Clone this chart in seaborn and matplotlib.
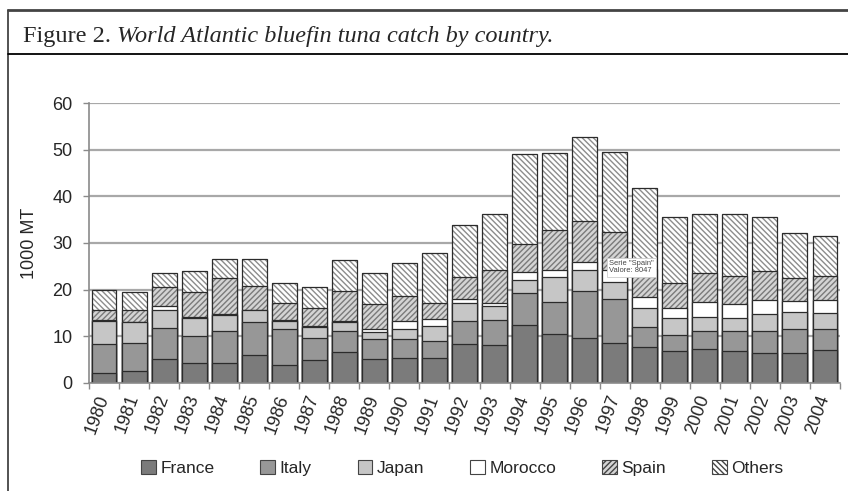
import matplotlib
matplotlib.use("Agg")
import matplotlib.pyplot as plt
from matplotlib.patches import Patch
from matplotlib.lines import Line2D
import numpy as np
import seaborn as sns

years = [str(y) for y in range(1980, 2005)]
france = [2.0, 2.5, 5.1, 4.2, 4.2, 5.9, 3.7, 4.8, 6.5, 5.0, 5.2, 5.2, 8.2, 8.1, 12.3,
          10.4, 9.6, 8.5, 7.7, 6.8, 7.3, 6.8, 6.4, 6.4, 7.0]
italy = [6.2, 6.1, 6.6, 5.8, 7.0, 7.2, 7.8, 4.7, 4.5, 4.3, 4.1, 3.7, 5.0, 5.4, 6.9,
         7.0, 10.1, 9.5, 4.2, 3.4, 3.9, 4.3, 4.8, 5.1, 4.6]
japan = [5.0, 4.4, 3.8, 3.9, 3.4, 2.4, 1.7, 2.4, 2.0, 1.5, 2.3, 3.2, 4.0, 3.0, 2.8,
         5.2, 4.5, 3.6, 4.2, 3.6, 3.0, 2.7, 3.5, 3.6, 3.3]
morocco = [0.2, 0.1, 1.0, 0.3, 0.1, 0.1, 0.2, 0.3, 0.3, 0.7, 1.6, 1.5, 0.8, 0.5, 1.8,
           1.6, 1.6, 2.6, 2.3, 2.3, 3.1, 3.1, 3.0, 2.5, 2.8]
spain = [2.3, 2.6, 4.0, 5.3, 7.7, 5.1, 3.6, 3.8, 6.3, 5.3, 5.4, 3.6, 4.6, 7.2, 5.9,
         8.6, 8.9, 8.047, 6.0, 5.4, 6.2, 5.9, 6.2, 4.8, 5.1]
others = [4.1, 3.7, 3.0, 4.5, 4.2, 5.8, 4.5, 4.6, 6.7, 6.7, 7.0, 10.6, 11.3, 11.9, 19.3,
          16.4, 18.0, 17.2, 17.4, 14.1, 12.7, 13.5, 11.7, 9.8, 8.7]

series_names = ["France", "Italy", "Japan", "Morocco", "Spain", "Others"]
series_vals = [france, italy, japan, morocco, spain, others]
face_colors = ["#7b7b7b", "#979797", "#c6c6c6", "#ffffff", "#d4d4d4", "#ffffff"]
hatches = [None, None, None, None, "//////", "\\\\\\\\\\\\"]
hatch_colors = ["#7b7b7b", "#979797", "#c6c6c6", "#ffffff", "#7a7a7a", "#8c8c8c"]

sns.set_theme(style="white")
plt.rcParams["font.family"] = ["Liberation Sans", "DejaVu Sans"]
plt.rcParams["hatch.linewidth"] = 1.0

fig = plt.figure(figsize=(8.48, 4.91), dpi=100)
ax = fig.add_axes([89 / 848, 108.3 / 491, 751 / 848, 279.6 / 491])

cum = np.cumsum(np.array(series_vals), axis=0)
bw = 0.83
for i in range(len(series_names) - 1, -1, -1):
    n0 = len(ax.patches)
    sns.barplot(x=years, y=cum[i], color=face_colors[i], saturation=1, width=bw,
                ax=ax, errorbar=None)
    for p in ax.patches[n0:]:
        p.set_facecolor(face_colors[i])
        p.set_edgecolor(hatch_colors[i])
        p.set_linewidth(0)
        if hatches[i]:
            p.set_hatch(hatches[i])
    n1 = len(ax.patches)
    sns.barplot(x=years, y=cum[i], color="#333333", saturation=1, width=bw,
                ax=ax, errorbar=None, fill=False)
    for p in ax.patches[n1:]:
        p.set_facecolor("none")
        p.set_edgecolor("#2b2b2b")
        p.set_linewidth(0.9)

ax.set_xlim(-0.5, 24.5)
ax.set_ylim(0, 60)
ax.set_yticks(np.arange(0, 61, 10))
ax.yaxis.grid(True, color="#a8a8a8", linewidth=1.6)
ax.set_axisbelow(True)
for s in ["top", "right"]:
    ax.spines[s].set_visible(False)
for s in ["left", "bottom"]:
    ax.spines[s].set_color("#8a8a8a")
    ax.spines[s].set_linewidth(1.2)

ax.set_xticks(np.arange(-0.5, 25, 1), minor=True)
ax.tick_params(axis="x", which="minor", length=4, color="#8a8a8a", width=1.0, bottom=True)
ax.tick_params(axis="x", which="major", length=0, pad=9, labelsize=13)
ax.tick_params(axis="y", length=4, color="#8a8a8a", width=1.0, left=True, pad=8, labelsize=13)
for lab in ax.get_xticklabels():
    lab.set_rotation(70)
    lab.set_ha("right")
    lab.set_va("center")
    lab.set_rotation_mode("anchor")
ax.set_xlabel("")
ax.set_ylabel("1000 MT", fontsize=13, labelpad=10)

handles = [Patch(facecolor=face_colors[i], hatch=hatches[i], edgecolor="#444444",
                 linewidth=0.8) for i in range(len(series_names))]
fig.legend(handles, series_names, loc="center", bbox_to_anchor=(0.545, 0.047), ncol=6,
           frameon=False, fontsize=12.5, handlelength=0.85, handleheight=0.85,
           handletextpad=0.25, columnspacing=2.65)

# tooltip text from the reference screenshot
fig.text(609 / 848, 1 - 267 / 491, 'Serie "Spain"\nValore: 8047', fontsize=5.4,
         color="#444444", va="center", ha="left", linespacing=1.1,
         bbox=dict(boxstyle="square,pad=0.3", facecolor="white", edgecolor="#cccccc",
                   linewidth=0.6))

# figure frame and title
fig.add_artist(Line2D([8 / 848, 1], [1 - 10 / 491] * 2, transform=fig.transFigure,
                      color="#444444", linewidth=2.0))
fig.add_artist(Line2D([8 / 848] * 2, [0, 1 - 10 / 491], transform=fig.transFigure,
                      color="#444444", linewidth=1.3))
fig.add_artist(Line2D([8 / 848, 1], [1 - 54 / 491] * 2, transform=fig.transFigure,
                      color="black", linewidth=1.3))
t1 = fig.text(23 / 848, 1 - 42 / 491, "Figure 2. ", fontsize=17.5,
              family=["Liberation Serif", "DejaVu Serif"], va="baseline", ha="left")
fig.canvas.draw()
bb = t1.get_window_extent(renderer=fig.canvas.get_renderer())
fig.text(bb.x1 / fig.bbox.width, 1 - 42 / 491, "World Atlantic bluefin tuna catch by country.",
         fontsize=17.5, family=["Liberation Serif", "DejaVu Serif"], style="italic",
         va="baseline", ha="left")

fig.savefig("out.png", dpi=100)
